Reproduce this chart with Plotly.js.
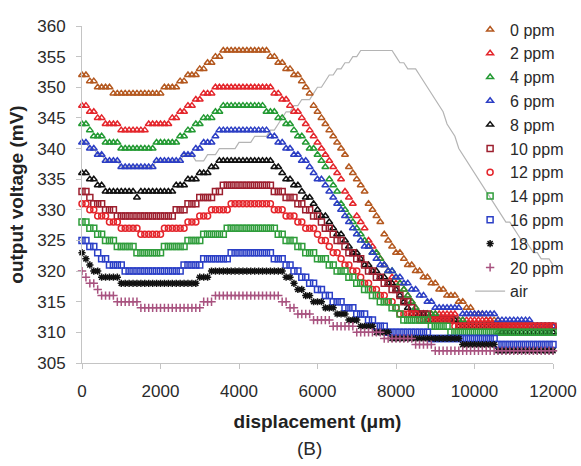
<!DOCTYPE html>
<html>
<head>
<meta charset="utf-8">
<script src="https://cdn.plot.ly/plotly-3.0.1.min.js"></script>
<style>html,body{margin:0;padding:0;background:#fff;}#chart{width:581px;height:466px;}</style>
</head>
<body>
<div id="chart"></div>
<script>
// displacement (µm)
const displacement = [
 0,100,200,300,400,500,600,700,800,900,1000,1100,1200,1300,1400,1500,1600,1700,1800,1900,
 2000,2100,2200,2300,2400,2500,2600,2700,2800,2900,3000,3100,3200,3300,3400,3500,3600,3700,3800,3900,
 4000,4100,4200,4300,4400,4500,4600,4700,4800,4900,5000,5100,5200,5300,5400,5500,5600,5700,5800,5900,
 6000,6100,6200,6300,6400,6500,6600,6700,6800,6900,7000,7100,7200,7300,7400,7500,7600,7700,7800,7900,
 8000,8100,8200,8300,8400,8500,8600,8700,8800,8900,9000,9100,9200,9300,9400,9500,9600,9700,9800,9900,
 10000,10100,10200,10300,10400,10500,10600,10700,10800,10900,11000,11100,11200,11300,11400,11500,11600,11700,11800,11900,
 12000];

const seriesNames = ['0 ppm','2 ppm','4 ppm','6 ppm','8 ppm','10 ppm','12 ppm','14 ppm','16 ppm','18 ppm','20 ppm'];

const ppm0 = [352,352,351,351,350,350,350,350,349,349,349,349,349,349,349,349,349,349,349,349,
 349,350,350,350,350,351,351,352,352,352,353,353,354,354,355,355,356,356,356,356,
 356,356,356,356,356,356,356,356,355,355,354,354,353,353,352,352,351,350,349,347,
 346,345,344,343,342,341,340,339,337,336,335,334,333,331,330,329,328,326,325,324,
 323,323,322,321,321,320,320,319,319,318,318,317,317,316,316,316,315,315,314,314,
 313,313,313,312,312,312,312,311,311,311,311,311,311,311,311,311,311,311,311,311,
 311];
const ppm2 = [347,347,346,346,345,345,344,344,344,344,343,343,343,343,343,343,343,344,344,344,
 344,344,344,345,345,346,346,347,347,348,348,349,349,349,350,350,350,350,350,350,
 350,350,350,350,350,350,350,350,350,349,349,348,348,347,346,346,345,344,343,342,
 341,340,339,338,337,336,335,333,332,331,329,328,327,325,324,323,322,321,320,319,
 318,318,317,316,315,314,313,313,313,313,313,313,313,313,313,313,312,312,312,312,
 312,312,312,312,312,311,311,311,311,311,311,311,311,311,311,311,311,311,311,311,
 311];
const ppm4 = [344,344,343,342,342,342,341,341,341,341,340,340,340,340,340,340,340,340,340,341,
 341,341,341,341,341,342,342,343,343,344,344,345,345,345,346,346,347,347,347,347,
 347,347,347,347,347,347,347,346,346,346,345,345,344,344,343,342,342,341,340,340,
 339,338,337,335,334,333,331,330,329,328,327,326,325,324,323,323,322,321,320,320,
 319,318,317,316,315,314,313,313,313,313,313,312,312,312,312,312,312,312,311,311,
 311,311,311,311,311,311,310,310,310,310,310,310,310,310,310,310,310,310,310,310,
 310];
const ppm6 = [341,341,340,340,339,339,338,338,338,338,337,337,337,337,337,337,337,337,337,338,
 338,338,338,338,338,338,339,339,339,340,340,341,341,341,342,343,343,343,343,343,
 343,343,343,343,343,343,343,343,342,342,341,341,340,340,339,339,338,338,337,336,
 335,335,334,333,332,331,330,329,328,327,326,325,324,324,323,322,321,321,320,320,
 319,319,318,318,317,317,316,316,315,315,314,314,314,314,314,314,314,313,313,313,
 313,313,313,313,313,313,312,312,312,312,312,312,312,312,312,311,311,311,311,311,
 311];
const ppm8 = [336,336,335,335,334,334,333,333,333,333,333,333,333,333,332,333,333,333,333,333,
 333,333,333,333,334,334,334,335,335,335,336,336,336,337,337,338,338,338,338,338,
 338,338,338,338,338,338,338,338,338,337,337,336,335,335,334,334,333,332,332,331,
 330,329,329,328,327,326,326,325,324,323,323,322,321,321,320,320,319,319,318,318,
 317,316,315,314,313,313,313,313,312,312,312,312,312,312,312,312,311,311,311,311,
 311,311,311,311,311,311,311,310,310,310,310,310,310,310,310,310,310,310,310,310,
 310];
const ppm10 = [333,333,332,331,331,331,330,330,330,329,329,329,329,329,329,329,329,329,329,329,
 329,329,329,329,330,330,330,331,331,331,332,332,332,332,333,333,334,334,334,334,
 334,334,334,334,334,334,334,334,334,333,333,333,332,332,332,331,331,330,330,329,
 329,328,327,327,326,325,325,324,323,323,322,322,321,320,320,319,319,318,318,317,
 317,316,315,315,314,313,313,313,313,312,312,312,312,312,312,312,311,311,311,311,
 311,311,311,311,311,311,311,311,311,311,311,311,311,311,311,311,311,311,311,311,
 311];
const ppm12 = [331,331,330,330,329,329,329,328,328,328,327,327,327,327,327,326,326,326,326,326,
 326,327,327,327,327,327,327,328,328,328,329,329,329,330,330,330,330,330,331,331,
 331,331,331,331,331,331,331,331,331,330,330,330,329,329,329,328,328,327,327,327,
 326,325,325,324,323,323,322,321,321,320,320,319,318,318,317,317,316,316,315,315,
 314,313,313,313,313,313,312,312,312,312,312,312,312,312,312,311,311,311,311,311,
 311,311,311,311,311,311,311,311,311,311,311,311,311,311,311,311,311,311,311,311,
 311];
const ppm14 = [328,328,327,327,326,326,325,325,325,324,324,324,324,324,323,323,323,323,323,323,
 323,324,324,324,324,324,324,325,325,325,325,326,326,326,326,326,326,327,327,327,
 327,327,327,327,327,327,327,327,327,327,326,326,325,325,325,324,324,323,323,323,
 322,322,322,321,321,320,320,320,319,319,318,318,317,317,316,316,315,315,315,314,
 314,313,312,312,312,312,312,312,312,311,311,311,311,311,310,310,310,310,310,310,
 310,310,310,310,310,310,310,310,310,310,310,310,310,310,310,310,310,310,310,310,
 310];
const ppm16 = [325,325,324,324,323,322,322,321,321,321,321,320,320,320,320,320,320,320,320,320,
 320,320,320,320,320,320,321,321,321,321,321,322,322,322,322,322,322,322,323,323,
 323,323,323,323,323,323,323,323,323,322,322,322,321,321,320,320,319,319,318,318,
 317,317,316,316,315,315,315,314,314,314,313,313,313,312,312,311,311,311,310,310,
 310,310,310,310,310,310,310,310,310,309,309,309,309,309,309,309,309,309,309,309,
 309,309,309,309,309,309,308,308,308,308,308,308,308,308,308,308,308,308,308,308,
 308];
const ppm18 = [323,322,321,320,320,319,319,319,319,319,318,318,318,318,318,318,318,318,318,318,
 318,318,318,318,318,318,318,318,318,318,319,319,319,320,320,320,320,320,320,320,
 320,320,320,320,320,320,320,320,320,320,320,320,319,319,318,317,317,316,316,315,
 315,315,314,314,314,313,313,313,312,312,312,311,311,311,311,310,310,310,310,309,
 309,309,309,309,309,309,309,309,309,309,309,309,309,309,309,309,309,308,308,308,
 308,308,308,308,308,308,307,307,307,307,307,307,307,307,307,307,307,307,307,307,
 307];
const ppm20 = [320,319,318,318,317,316,316,316,316,315,315,315,315,315,315,314,314,314,314,314,
 314,314,314,314,314,314,314,314,314,314,314,315,315,315,316,316,316,316,316,316,
 316,316,316,316,316,316,316,316,316,316,316,315,315,314,314,313,313,313,313,312,
 312,312,312,312,311,311,311,311,311,311,310,310,310,310,310,310,310,309,309,309,
 309,309,309,309,309,308,308,308,308,308,307,307,307,307,307,307,307,307,307,307,
 307,307,307,307,307,307,307,307,307,307,307,307,307,307,307,307,307,307,307,307,
 307];
const air = [341,341,340,340,339,339,338,338,338,338,337,337,337,337,337,337,337,337,337,338,
 338,338,338,338,338,338,339,339,339,338,338,338,339,339,339,340,340,340,340,340,
 341,341,341,341,342,342,342,342,343,343,344,345,346,346,347,347,348,348,348,349,
 350,350,351,352,352,353,353,354,354,355,355,356,356,356,356,356,356,356,356,356,
 355,354,354,353,353,353,352,351,350,349,348,347,346,344,343,342,340,339,338,337,
 336,335,334,333,332,331,330,329,328,328,327,326,325,325,324,323,323,322,322,322,
 321];

const seriesValues = [ppm0, ppm2, ppm4, ppm6, ppm8, ppm10, ppm12, ppm14, ppm16, ppm18, ppm20];
const seriesColors = ['#b4581f','#e4252b','#239a33','#2c3ec4','#111111','#9d1f2e','#e4252b','#2f9d3b','#2b3fc6','#111111','#a8527f'];
const seriesSymbols = ['triangle-up-open','triangle-up-open','triangle-up-open','triangle-up-open','triangle-up-open',
  'square-open','circle-open','square-open','square-open','asterisk-open','cross-thin-open'];

const traces = [];
traces.push({
  x: displacement, y: air, name: 'air', type: 'scatter', mode: 'lines',
  line: {color: '#b4b4b4', width: 1.2}, legendrank: 2000, cliponaxis: false
});
seriesNames.forEach((nm, k) => {
  traces.push({
    x: displacement, y: seriesValues[k], name: nm, type: 'scatter', mode: 'markers',
    legendrank: 1000 + k, cliponaxis: false,
    marker: {symbol: seriesSymbols[k], size: 6, color: seriesColors[k],
             line: {color: seriesColors[k], width: 1.5}}
  });
});

const layout = {
  width: 581, height: 466,
  margin: {l: 82.5, r: 28, t: 24, b: 103, pad: 0},
  paper_bgcolor: '#ffffff', plot_bgcolor: '#ffffff',
  font: {family: 'Liberation Sans, Arial, sans-serif', size: 17, color: '#2a2a2a'},
  showlegend: true,
  legend: {x: 0.824, xanchor: 'left', y: 1.04, yanchor: 'top', bgcolor: 'rgba(0,0,0,0)',
           font: {size: 16, color: '#2a2a2a'}, itemwidth: 30, tracegroupgap: 0, maxheight: 460},
  xaxis: {range: [0, 12000], dtick: 2000, tick0: 0, tickformat: 'd', showgrid: false, zeroline: false,
          showline: true, linecolor: '#c4c4c4', linewidth: 1, ticks: 'outside', ticklen: 5,
          tickcolor: '#c4c4c4', tickfont: {size: 17}, ticklabelstandoff: 8,
          title: {text: 'displacement (\u03bcm)', font: {size: 19, weight: 'bold', color: '#222'}, standoff: 14}},
  yaxis: {range: [305, 360], dtick: 5, tick0: 305, showgrid: false, zeroline: false,
          showline: true, linecolor: '#c4c4c4', linewidth: 1, ticks: 'outside', ticklen: 5,
          tickcolor: '#c4c4c4', tickfont: {size: 17}, ticklabelstandoff: 7,
          title: {text: 'output voltage (mV)', font: {size: 19, weight: 'bold', color: '#222'}, standoff: 8}},
  annotations: [{text: '(B)', xref: 'paper', yref: 'paper', x: 0.483, y: -0.255, showarrow: false,
                 font: {size: 19, color: '#2a2a2a'}, xanchor: 'center', yanchor: 'middle'}]
};

Plotly.newPlot('chart', traces, layout, {displayModeBar: false, staticPlot: true});
</script>
</body>
</html>
